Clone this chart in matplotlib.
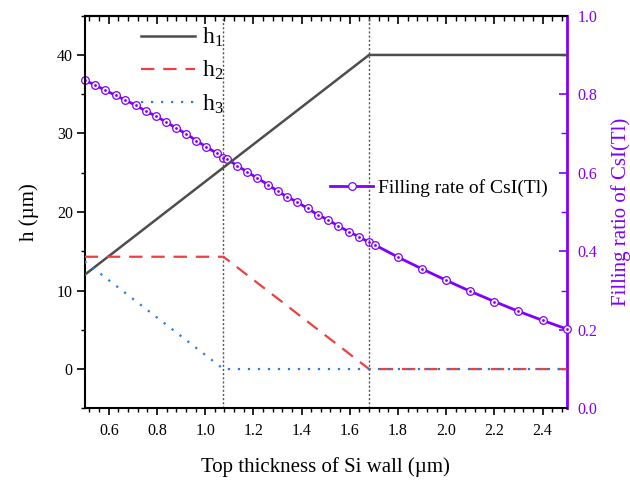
import matplotlib
matplotlib.use("Agg")
import matplotlib.pyplot as plt
from matplotlib.ticker import MultipleLocator

plt.rcParams['font.family'] = ['Liberation Serif', 'DejaVu Serif']
plt.rcParams['mathtext.fontset'] = 'custom'
plt.rcParams['mathtext.rm'] = 'Liberation Serif'
plt.rcParams['mathtext.it'] = 'Liberation Serif:italic'

# h curves (um)
h1_x = [0.5, 1.68, 2.5]
h1_y = [12.0, 40.0, 40.0]
h2_x = [0.5, 1.076, 1.68, 2.5]
h2_y = [14.3, 14.3, 0.0, 0.0]
h3_x = [0.5, 1.076, 2.5]
h3_y = [13.7, 0.0, 0.0]

# filling rate of CsI(Tl)
fill_x = [0.500, 0.544, 0.586, 0.628, 0.669, 0.711, 0.754, 0.796, 0.838, 0.879,
          0.921, 0.963, 1.004, 1.047, 1.075, 1.092, 1.133, 1.175, 1.217, 1.260,
          1.301, 1.339, 1.383, 1.425, 1.467, 1.510, 1.553, 1.596, 1.638, 1.680,
          1.705, 1.8, 1.9, 2.0, 2.1, 2.2, 2.3, 2.4, 2.5]
fill_y = [0.836, 0.823, 0.810, 0.797, 0.785, 0.772, 0.757, 0.744, 0.729, 0.714,
          0.699, 0.682, 0.666, 0.650, 0.638, 0.634, 0.618, 0.602, 0.586, 0.570,
          0.553, 0.539, 0.525, 0.509, 0.493, 0.480, 0.464, 0.450, 0.437, 0.423,
          0.416, 0.385, 0.355, 0.326, 0.298, 0.272, 0.247, 0.224, 0.202]

vlines = [1.076, 1.68]

purple = '#7F00FF'

fig = plt.figure(figsize=(6.3, 4.84), dpi=100)
ax = fig.add_axes([0.1344, 0.1564, 0.7651, 0.8112])

for xv in vlines:
    ax.axvline(xv, color='#555555', ls=(0, (1.5, 1.5)), lw=1.0, zorder=1)

l1, = ax.plot(h1_x, h1_y, color='#4d4d4d', lw=1.8, label=r'h$_{\mathrm{1}}$', zorder=3)
l2, = ax.plot(h2_x, h2_y, color='#EE4040', lw=1.6, ls=(0, (6, 4)), label=r'h$_{\mathrm{2}}$', zorder=3)
l3, = ax.plot(h3_x, h3_y, color='#2E7BDB', lw=1.6, ls=(0, (1, 3.5)), label=r'h$_{\mathrm{3}}$', zorder=4)

ax.set_xlim(0.5, 2.5)
ax.set_ylim(-5, 45)
ax.xaxis.set_major_locator(MultipleLocator(0.2))
ax.xaxis.set_minor_locator(MultipleLocator(0.04))
ax.yaxis.set_major_locator(MultipleLocator(10))
ax.yaxis.set_minor_locator(MultipleLocator(5))
ax.tick_params(axis='x', which='major', direction='out', length=5, width=1.2, labelsize=11.5, pad=5.5)
ax.tick_params(axis='x', which='minor', direction='out', length=3, width=1.0)
ax.tick_params(axis='y', which='major', direction='out', length=5.5, width=1.2, labelsize=11.5, pad=3)
ax.tick_params(axis='y', which='minor', direction='out', length=3, width=1.0)
for s in ['left', 'bottom', 'top']:
    ax.spines[s].set_linewidth(1.5)
ax.spines['right'].set_visible(False)
ax.set_xlabel('Top thickness of Si wall (µm)', fontsize=15, labelpad=13)
ax.set_ylabel('h (µm)', fontsize=15, labelpad=13)

top = ax.secondary_xaxis('top')
top.xaxis.set_major_locator(MultipleLocator(0.2))
top.xaxis.set_minor_locator(MultipleLocator(0.04))
top.tick_params(which='major', direction='in', length=5.5, width=1.2, labeltop=False)
top.tick_params(which='minor', direction='in', length=3.5, width=1.0)
top.spines['top'].set_linewidth(1.5)

ax2 = ax.twinx()
pf, = ax2.plot(fill_x, fill_y, color=purple, lw=2.0, marker='o', ms=5.5,
               mfc='white', mec=purple, mew=0.9, zorder=5, clip_on=False)
ax2.plot(fill_x, fill_y, ls='none', marker='o', ms=1.0, color=purple, zorder=6, clip_on=False)
ax2.set_ylim(0, 1.0)
ax2.yaxis.set_major_locator(MultipleLocator(0.2))
ax2.yaxis.set_minor_locator(MultipleLocator(0.1))
ax2.tick_params(axis='y', which='major', direction='in', length=5.5, width=1.2,
                colors=purple, labelsize=11.5, pad=8)
ax2.tick_params(axis='y', which='minor', direction='in', length=4, width=1.0, colors=purple)
ax2.spines['right'].set_color(purple)
ax2.spines['right'].set_linewidth(2.0)
for s in ['left', 'bottom', 'top']:
    ax2.spines[s].set_visible(False)
ax2.set_ylabel('Filling ratio of CsI(Tl)', fontsize=15, color=purple, labelpad=10)

ax.set_zorder(ax2.get_zorder() + 1)
ax.patch.set_visible(False)

leg1 = ax.legend(handles=[l1, l2, l3], loc='upper left', bbox_to_anchor=(0.116, 0.974),
                 frameon=False, fontsize=17, handlelength=2.3, handletextpad=0.3,
                 labelspacing=0.42, borderpad=0, borderaxespad=0)
ax.add_artist(leg1)
ax.legend(handles=[pf], labels=['Filling rate of CsI(Tl)'],
          loc='center left', bbox_to_anchor=(0.51, 0.561), frameon=False,
          fontsize=14, handlelength=2.2, handletextpad=0.25, borderpad=0,
          borderaxespad=0, numpoints=1)

fig.savefig('out.png', dpi=100)
